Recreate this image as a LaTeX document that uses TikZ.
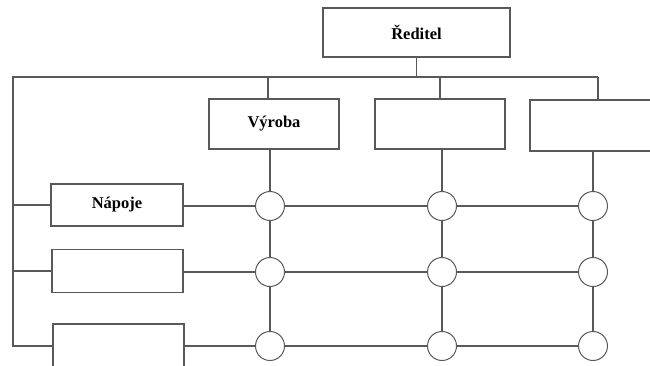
\documentclass[tikz,border=0pt]{standalone}
\usepackage{fontspec}
\setmainfont{Liberation Serif}
\begin{document}
\begin{tikzpicture}[x=1pt,y=-1pt,
  line/.style={draw=black!65, line width=1.1pt},
  box/.style={draw=black!65, line width=1.1pt, fill=white, inner sep=0pt,
              font=\fontsize{16.5}{19}\selectfont\bfseries},
  junction/.style={circle, draw=black!65, line width=1pt, fill=white,
              minimum size=29pt, inner sep=0pt}]
\useasboundingbox (0,0) rectangle (650,365);
\clip (0,0) rectangle (650,365);

% boxes
\node[box, minimum width=187pt, minimum height=49pt] (reditel) at (416.5,32.5) {Ředitel};
\node[box, minimum width=130pt, minimum height=50pt] (vyroba) at (274,124) {Výroba};
\node[box, minimum width=130pt, minimum height=50pt] (u2) at (440,124) {};
\node[box, minimum width=130pt, minimum height=51pt] (u3) at (595,125.5) {};
\node[box, minimum width=132pt, minimum height=42pt] (napoje) at (117,205) {Nápoje};
\node[box, minimum width=131pt, minimum height=43pt] (l2) at (117.5,271) {};
\node[box, minimum width=131pt, minimum height=44pt] (l3) at (118.5,346) {};

% bus coordinates
\coordinate (busL) at (13,77);
\coordinate (busR) at (598,77);
\coordinate (d1) at (268,77);
\coordinate (d2) at (440,77);

% top connectors
\draw[line] (reditel.south) -- (reditel.south |- busL);
\draw[line] (busR) -- (busL) -- (busL |- l3.west) -- (l3.west);
\draw[line] (d1) -- (d1 |- vyroba.north);
\draw[line] (d2) -- (d2 |- u2.north);
\draw[line] (busR) -- (busR |- u3.north);
\draw[line] (busL |- napoje.west) -- (napoje.west);
\draw[line] (busL |- l2.west) -- (l2.west);

% junction circles
\node[junction] (c11) at (270,206) {};
\node[junction] (c12) at (442,206) {};
\node[junction] (c13) at (593,206) {};
\node[junction] (c21) at (270,272) {};
\node[junction] (c22) at (442,272) {};
\node[junction] (c23) at (593,272) {};
\node[junction] (c31) at (270,346) {};
\node[junction] (c32) at (442,346) {};
\node[junction] (c33) at (593,346) {};

% columns
\draw[line] (vyroba.south -| c11) -- (c11);
\draw[line] (c11) -- (c21);
\draw[line] (c21) -- (c31);
\draw[line] (u2.south -| c12) -- (c12);
\draw[line] (c12) -- (c22);
\draw[line] (c22) -- (c32);
\draw[line] (u3.south -| c13) -- (c13);
\draw[line] (c13) -- (c23);
\draw[line] (c23) -- (c33);

% rows
\draw[line] (napoje.east |- c11) -- (c11);
\draw[line] (c11) -- (c12);
\draw[line] (c12) -- (c13);
\draw[line] (l2.east |- c21) -- (c21);
\draw[line] (c21) -- (c22);
\draw[line] (c22) -- (c23);
\draw[line] (l3.east |- c31) -- (c31);
\draw[line] (c31) -- (c32);
\draw[line] (c32) -- (c33);
\end{tikzpicture}
\end{document}
